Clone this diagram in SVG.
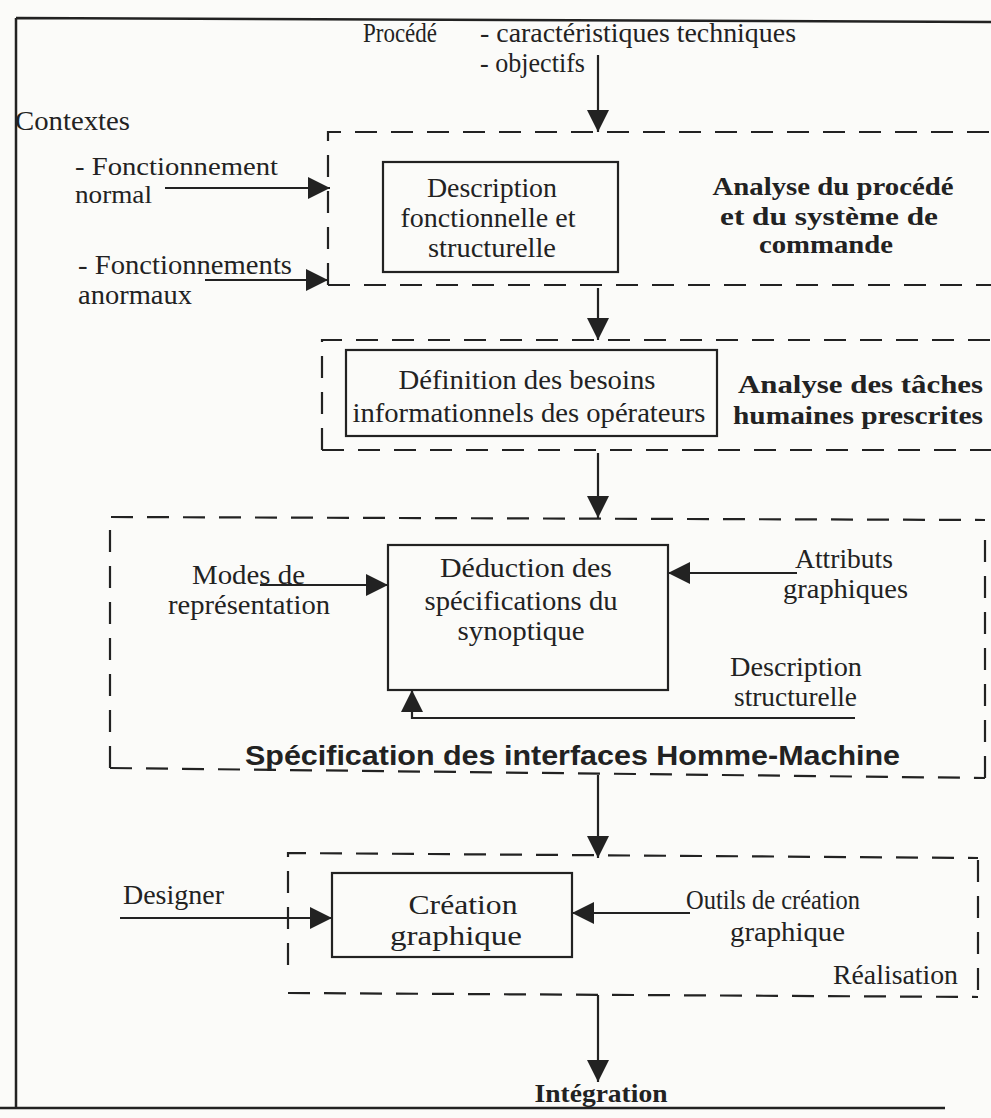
<svg xmlns="http://www.w3.org/2000/svg" width="991" height="1118" viewBox="0 0 991 1118">
<style>
  .t { font-family: "Liberation Serif", "Times New Roman", serif; font-size: 27px; fill: #222; }
  .b { font-family: "Liberation Serif", "Times New Roman", serif; font-size: 26px; font-weight: bold; fill: #222; }
  .s { font-family: "Liberation Sans", Arial, sans-serif; font-size: 28px; font-weight: bold; fill: #222; }
  .sm { font-size: 25px; }
  .box { fill: none; stroke: #222; stroke-width: 2.2; }
  .dash { fill: none; stroke: #222; stroke-width: 2.2; stroke-dasharray: 22 14; }
  .ln { fill: none; stroke: #222; stroke-width: 2.2; }
  .frame { fill: none; stroke: #222; stroke-width: 2.5; }
</style>
<defs>
  <marker id="ah" markerUnits="userSpaceOnUse" markerWidth="24" markerHeight="24" refX="22" refY="11" orient="auto">
    <path d="M0,0 L22,11 L0,22 Z" fill="#222"/>
  </marker>
</defs>
<rect width="991" height="1118" fill="#fbfbf9"/>
<g id="frame">
  <path class="frame" d="M16,18 L991,22 M16,18 L16,1108 M0,1108 L945,1108"/>
</g>
<g id="top-labels">
  <text class="t" x="363" y="42" textLength="74" lengthAdjust="spacingAndGlyphs">Procédé</text>
  <text class="t" x="480" y="42" textLength="316" lengthAdjust="spacingAndGlyphs">- caractéristiques techniques</text>
  <text class="t" x="480" y="72" textLength="105" lengthAdjust="spacingAndGlyphs">- objectifs</text>
  <text class="t" x="15" y="130" textLength="115" lengthAdjust="spacingAndGlyphs">Contextes</text>
  <text class="t sm" x="75" y="175" textLength="203" lengthAdjust="spacingAndGlyphs">- Fonctionnement</text>
  <text class="t sm" x="75" y="203" textLength="77" lengthAdjust="spacingAndGlyphs">normal</text>
  <text class="t" x="78" y="274" textLength="214" lengthAdjust="spacingAndGlyphs">- Fonctionnements</text>
  <text class="t" x="78" y="304" textLength="114" lengthAdjust="spacingAndGlyphs">anormaux</text>
</g>
<g id="group-analyse-procede">
  <path class="dash" d="M328,285 L328,132 L991,132"/>
  <path class="dash" d="M328,285 L991,285"/>
  <text class="b" x="833" y="195" text-anchor="middle" textLength="241" lengthAdjust="spacingAndGlyphs">Analyse du procédé</text>
  <text class="b" x="829" y="225" text-anchor="middle" textLength="218" lengthAdjust="spacingAndGlyphs">et du système de</text>
  <text class="b" x="826" y="253" text-anchor="middle" textLength="134" lengthAdjust="spacingAndGlyphs">commande</text>
</g>
<g id="node-description">
  <rect class="box" x="383" y="162" width="235" height="110"/>
  <text class="t" x="492" y="197" text-anchor="middle" textLength="130" lengthAdjust="spacingAndGlyphs">Description</text>
  <text class="t" x="488" y="227" text-anchor="middle" textLength="175" lengthAdjust="spacingAndGlyphs">fonctionnelle et</text>
  <text class="t" x="492" y="257" text-anchor="middle" textLength="128" lengthAdjust="spacingAndGlyphs">structurelle</text>
</g>
<g id="group-analyse-taches">
  <path class="dash" d="M322,450 L322,340 L991,340"/>
  <path class="dash" d="M322,450 L991,450"/>
  <text class="b" x="738" y="393" textLength="245" lengthAdjust="spacingAndGlyphs">Analyse des tâches</text>
  <text class="b" x="733" y="424" textLength="250" lengthAdjust="spacingAndGlyphs">humaines prescrites</text>
</g>
<g id="node-definition">
  <rect class="box" x="346" y="350" width="371" height="86"/>
  <text class="t" x="527" y="389" text-anchor="middle" textLength="257" lengthAdjust="spacingAndGlyphs">Définition des besoins</text>
  <text class="t" x="529" y="422" text-anchor="middle" textLength="353" lengthAdjust="spacingAndGlyphs">informationnels des opérateurs</text>
</g>
<g id="group-specification">
  <path class="dash" d="M110,768 L110,517 L985,520"/>
  <path class="dash" d="M110,768 L985,778"/>
  <path class="dash" d="M985,540 L985,792"/>
  <text class="s" x="245" y="765" textLength="655" lengthAdjust="spacingAndGlyphs">Spécification des interfaces Homme-Machine</text>
  <text class="t" x="192" y="584" textLength="113" lengthAdjust="spacingAndGlyphs">Modes de</text>
  <text class="t" x="168" y="614" textLength="162" lengthAdjust="spacingAndGlyphs">représentation</text>
  <text class="t" x="795" y="568" textLength="98" lengthAdjust="spacingAndGlyphs">Attributs</text>
  <text class="t" x="783" y="598" textLength="125" lengthAdjust="spacingAndGlyphs">graphiques</text>
  <text class="t" x="730" y="676" textLength="132" lengthAdjust="spacingAndGlyphs">Description</text>
  <text class="t" x="734" y="706" textLength="123" lengthAdjust="spacingAndGlyphs">structurelle</text>
</g>
<g id="node-deduction">
  <rect class="box" x="388" y="545" width="280" height="145"/>
  <text class="t" x="526" y="577" text-anchor="middle" textLength="172" lengthAdjust="spacingAndGlyphs">Déduction des</text>
  <text class="t" x="521" y="610" text-anchor="middle" textLength="193" lengthAdjust="spacingAndGlyphs">spécifications du</text>
  <text class="t" x="521" y="640" text-anchor="middle" textLength="127" lengthAdjust="spacingAndGlyphs">synoptique</text>
</g>
<g id="group-realisation">
  <path class="dash" d="M288,965 L288,853 L978,858"/>
  <path class="dash" d="M288,993 L978,997"/>
  <path class="dash" d="M978,860 L978,997"/>
  <text class="t" x="833" y="984" textLength="125" lengthAdjust="spacingAndGlyphs">Réalisation</text>
  <text class="t" x="123" y="904" textLength="101" lengthAdjust="spacingAndGlyphs">Designer</text>
  <text class="t" x="686" y="909" textLength="174" lengthAdjust="spacingAndGlyphs">Outils de création</text>
  <text class="t" x="730" y="941" textLength="115" lengthAdjust="spacingAndGlyphs">graphique</text>
</g>
<g id="node-creation">
  <rect class="box" x="332" y="873" width="240" height="84"/>
  <text class="t" x="463" y="914" text-anchor="middle" textLength="109" lengthAdjust="spacingAndGlyphs">Création</text>
  <text class="t" x="456" y="945" text-anchor="middle" textLength="132" lengthAdjust="spacingAndGlyphs">graphique</text>
</g>
<g id="node-integration">
  <text class="b" x="601" y="1102" text-anchor="middle" textLength="133" lengthAdjust="spacingAndGlyphs">Intégration</text>
</g>
<g id="connectors">
  <line class="ln" x1="598" y1="55" x2="598" y2="132" marker-end="url(#ah)"/>
  <line class="ln" x1="165" y1="188" x2="330" y2="188" marker-end="url(#ah)"/>
  <line class="ln" x1="205" y1="280" x2="328" y2="280" marker-end="url(#ah)"/>
  <line class="ln" x1="598" y1="288" x2="598" y2="340" marker-end="url(#ah)"/>
  <line class="ln" x1="598" y1="453" x2="598" y2="518" marker-end="url(#ah)"/>
  <line class="ln" x1="260" y1="585" x2="388" y2="585" marker-end="url(#ah)"/>
  <line class="ln" x1="797" y1="573" x2="668" y2="573" marker-end="url(#ah)"/>
  <path class="ln" d="M855,718 L412,718 L412,690" marker-end="url(#ah)"/>
  <line class="ln" x1="598" y1="775" x2="598" y2="858" marker-end="url(#ah)"/>
  <line class="ln" x1="120" y1="918" x2="332" y2="918" marker-end="url(#ah)"/>
  <line class="ln" x1="690" y1="913" x2="572" y2="913" marker-end="url(#ah)"/>
  <line class="ln" x1="598" y1="995" x2="598" y2="1082" marker-end="url(#ah)"/>
</g>
</svg>
